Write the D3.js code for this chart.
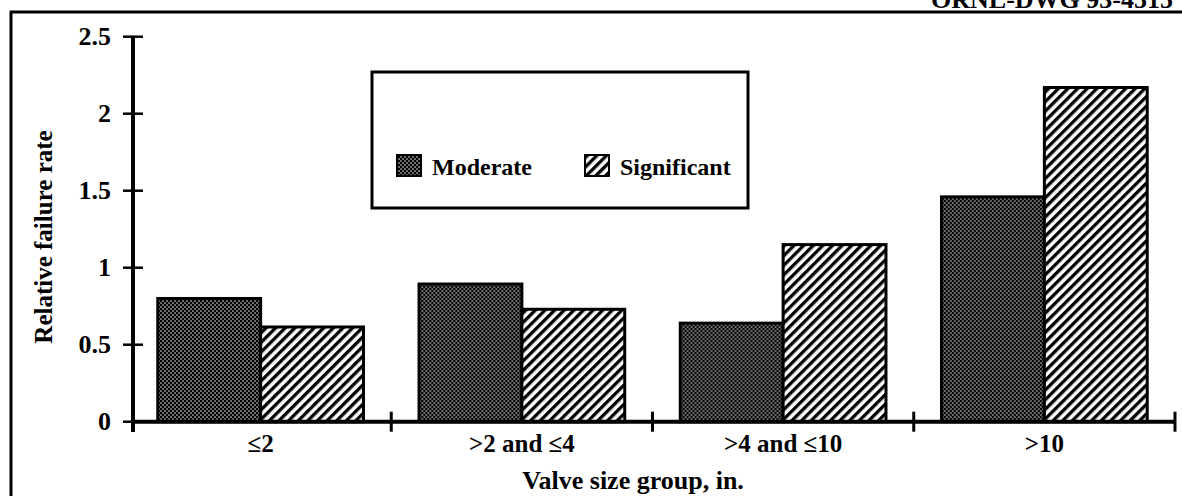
<!DOCTYPE html>
<html>
<head>
<meta charset="utf-8">
<script src="https://cdn.jsdelivr.net/npm/d3@7"></script>
<style>
  body { margin: 0; background: #fff; }
  text { font-family: "Liberation Serif", "Times New Roman", serif; font-weight: bold; fill: #000; }
</style>
</head>
<body>
<div id="chart"></div>
<script>
// data
var categories = ["\u22642", ">2 and \u22644", ">4 and \u226410", ">10"]
var seriesNames = ["Moderate", "Significant"]
var moderate = [0.80, 0.894, 0.64, 1.46]
var significant = [0.615, 0.73, 1.15, 2.17]
var yTicks = [0, 0.5, 1, 1.5, 2, 2.5]

var width = 1182,
    height = 496

var svg = d3.select("#chart")
  .append("svg")
    .attr("width", width)
    .attr("height", height)

// patterns: stipple for Moderate, diagonal hatch for Significant
var defs = svg.append("defs")
var dots = defs.append("pattern")
    .attr("id", "stipple")
    .attr("patternUnits", "userSpaceOnUse")
    .attr("width", 4).attr("height", 4)
dots.append("rect").attr("width", 4).attr("height", 4).attr("fill", "#000")
dots.append("rect").attr("x", 0.4).attr("y", 0.4).attr("width", 1.3).attr("height", 1.3).attr("fill", "#fff")
dots.append("rect").attr("x", 2.4).attr("y", 2.4).attr("width", 1.3).attr("height", 1.3).attr("fill", "#fff")

var hatch = defs.append("pattern")
    .attr("id", "hatch")
    .attr("patternUnits", "userSpaceOnUse")
    .attr("width", 6.8).attr("height", 6.8)
    .attr("patternTransform", "rotate(45)")
hatch.append("rect").attr("width", 6.8).attr("height", 6.8).attr("fill", "#fff")
hatch.append("rect").attr("width", 3.3).attr("height", 6.8).attr("fill", "#000")

var fills = {"Moderate": "url(#stipple)", "Significant": "url(#hatch)"}

// scales
var x0 = d3.scaleBand()
  .domain(categories)
  .range([130, 1175])
  .padding(0)

var x1 = d3.scaleBand()
  .domain(seriesNames)
  .range([0, x0.bandwidth()])
  .paddingInner(0)
  .paddingOuter(0.27)

var y = d3.scaleLinear()
  .domain([0, 2.5])
  .range([421.7, 36.7])

// outer frame (scanned page border)
svg.append("line").attr("x1", 11).attr("x2", 11).attr("y1", 11).attr("y2", height)
  .attr("stroke", "#000").attr("stroke-width", 3)
svg.append("line").attr("x1", 10).attr("x2", width).attr("y1", 12).attr("y2", 12)
  .attr("stroke", "#000").attr("stroke-width", 3)
svg.append("text")
  .attr("x", 1173).attr("y", 8)
  .attr("text-anchor", "end")
  .style("font-size", "26px")
  .text("ORNL-DWG 93-4515")

// bars
var rows = categories.map(function(c, i) {
  return {cat: c, values: [{key: "Moderate", value: moderate[i]}, {key: "Significant", value: significant[i]}]}
})

var groups = svg.selectAll(".grp")
  .data(rows)
  .enter()
  .append("g")
    .attr("class", "grp")
    .attr("transform", d => "translate(" + x0(d.cat) + ",0)")

groups.selectAll("rect")
  .data(d => d.values)
  .enter()
  .append("rect")
    .attr("x", d => x1(d.key))
    .attr("y", d => y(d.value))
    .attr("width", x1.bandwidth())
    .attr("height", d => y(0) - y(d.value))
    .attr("fill", d => fills[d.key])
    .attr("stroke", "#000")
    .attr("stroke-width", 3)

// y axis
var yAxis = svg.append("g")
svg.append("line")
  .attr("x1", 133).attr("x2", 133)
  .attr("y1", y(2.5)).attr("y2", 432)
  .attr("stroke", "#000").attr("stroke-width", 4)
yAxis.selectAll("line")
  .data(yTicks)
  .enter()
  .append("line")
    .attr("x1", 123).attr("x2", 143)
    .attr("y1", d => y(d)).attr("y2", d => y(d))
    .attr("stroke", "#000").attr("stroke-width", 2.5)
yAxis.selectAll("text")
  .data(yTicks)
  .enter()
  .append("text")
    .attr("x", 111)
    .attr("y", d => y(d))
    .attr("dy", "0.33em")
    .attr("text-anchor", "end")
    .style("font-size", "26px")
    .text(d => d3.format("")(d))

// x axis
svg.append("line")
  .attr("x1", 131).attr("x2", 1176)
  .attr("y1", y(0)).attr("y2", y(0))
  .attr("stroke", "#000").attr("stroke-width", 4)
svg.selectAll(".xtick")
  .data(categories)
  .enter()
  .append("line")
    .attr("class", "xtick")
    .attr("x1", d => x0(d) + x0.bandwidth()).attr("x2", d => x0(d) + x0.bandwidth())
    .attr("y1", y(0) - 10).attr("y2", y(0) + 10)
    .attr("stroke", "#000").attr("stroke-width", 3)
svg.selectAll(".xlab")
  .data(categories)
  .enter()
  .append("text")
    .attr("class", "xlab")
    .attr("x", d => x0(d) + x0.bandwidth() / 2)
    .attr("y", 452)
    .attr("text-anchor", "middle")
    .style("font-size", "25px")
    .text(d => d)

// axis titles
svg.append("text")
  .attr("x", 633).attr("y", 489)
  .attr("text-anchor", "middle")
  .style("font-size", "26px")
  .text("Valve size group, in.")

svg.append("text")
  .attr("transform", "translate(52,237) rotate(-90)")
  .attr("text-anchor", "middle")
  .style("font-size", "25px")
  .text("Relative failure rate")

// legend
var legend = svg.append("g")
legend.append("rect")
  .attr("x", 372).attr("y", 72)
  .attr("width", 376).attr("height", 136)
  .attr("fill", "#fff")
  .attr("stroke", "#000").attr("stroke-width", 3)
var legendX = [397, 585]
seriesNames.forEach(function(s, i) {
  legend.append("rect")
    .attr("x", legendX[i]).attr("y", 155)
    .attr("width", 24).attr("height", 21)
    .attr("fill", fills[s])
    .attr("stroke", "#000").attr("stroke-width", 2)
  legend.append("text")
    .attr("x", legendX[i] + 35).attr("y", 175)
    .style("font-size", "24px")
    .text(s)
})
</script>
</body>
</html>
